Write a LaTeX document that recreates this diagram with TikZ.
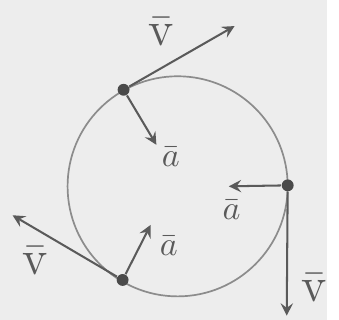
\documentclass[tikz,border=0pt]{standalone}
\usepackage{tikz}
\definecolor{paper}{HTML}{EDEDED}
\definecolor{pencil}{HTML}{5A5A5A}
\definecolor{lightpencil}{HTML}{8C8C8C}
\definecolor{dotink}{HTML}{4A4A4A}

\begin{document}
\begin{tikzpicture}[x=0.01cm, y=-0.01cm,
    rim/.style={draw=lightpencil, line width=0.5pt},
    vec/.style={draw=pencil, line width=0.6pt, -stealth},
    dot/.style={circle, fill=dotink, inner sep=0pt, minimum size=3.5pt},
    vlbl/.style={font=\Large, color=pencil},
    albl/.style={font=\normalsize, color=pencil}]
    \fill[paper] (0,0) rectangle (339,331);
    \coordinate (o) at (184,193);
    \draw[rim] (o) circle [radius=114];
    % points on the circle
    \node[dot] (top) at (128,93) {};
    \node[dot] (right) at (298,192) {};
    \node[dot] (bottom) at (127,290) {};
    % arrow ends
    \coordinate (topv) at (243,27);
    \coordinate (topa) at (162,150);
    \coordinate (rightv) at (297,327);
    \coordinate (righta) at (237,193);
    \coordinate (bottomv) at (13,223);
    \coordinate (bottoma) at (156,233);
    \draw[vec] (top) -- (topv);
    \draw[vec] (top) -- (topa);
    \draw[vec] (right) -- (rightv);
    \draw[vec] (right) -- (righta);
    \draw[vec] (bottom) -- (bottomv);
    \draw[vec] (bottom) -- (bottoma);
    % labels
    \node[vlbl] (topvl) at (167,33) {$\bar{\mathrm{v}}$};
    \node[albl] (topal) at (177,163) {$\bar{a}$};
    \node[vlbl] (rightvl) at (326,298) {$\bar{\mathrm{v}}$};
    \node[albl] (rightal) at (240,217) {$\bar{a}$};
    \node[vlbl] (bottomvl) at (37,270) {$\bar{\mathrm{v}}$};
    \node[albl] (bottomal) at (175,255) {$\bar{a}$};
  \end{tikzpicture}
\end{document}
